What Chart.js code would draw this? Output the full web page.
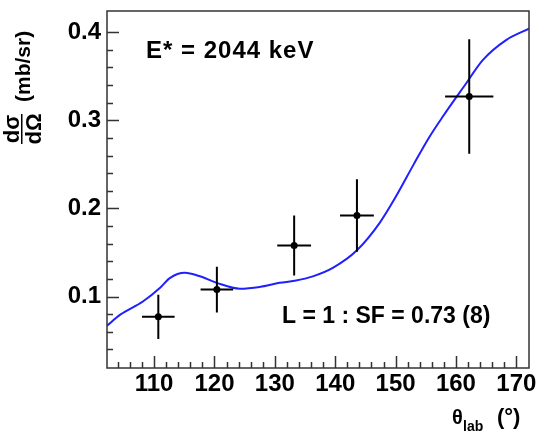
<!DOCTYPE html>
<html lang="en">
<head>
  <meta charset="UTF-8">
  <title>dσ/dΩ vs θlab</title>
  <script src="https://cdn.jsdelivr.net/npm/chart.js"></script>
  <style>
    body { margin: 0; background: #fff; }
    #wrap { width: 539px; height: 432px; }
  </style>
</head>
<body>
  <div id="wrap"><canvas id="xsChart" width="539" height="432"></canvas></div>

  <script>
    // measured points (lab angle in degrees, cross section in mb/sr)
    const expAngle = [110.7, 120.4, 133.2, 143.6, 162.2];
    const expXS    = [0.077, 0.108, 0.158, 0.192, 0.327];
    const angleErr = [2.7, 2.7, 2.8, 2.8, 4.0];
    const xsErr    = [0.025, 0.026, 0.034, 0.041, 0.065];

    // L = 1 calculation, scaled by SF
    const calcAngle = [102.2, 104.4, 108.2, 111.0, 112.6, 115.1, 117.6, 120.4, 124.2, 127.5, 130.8,
                       133.3, 136.3, 139.6, 143.6, 147.4, 150.1, 153.0, 155.5, 157.8, 161.7, 164.4, 168.3, 172.1];
    const calcXS    = [0.067, 0.0795, 0.0947, 0.110, 0.121, 0.127, 0.123, 0.1156, 0.109, 0.111, 0.1156,
                       0.118, 0.123, 0.1326, 0.1526, 0.184, 0.214, 0.250, 0.280, 0.304, 0.342, 0.368, 0.391, 0.404];

    const xTicks = [110, 120, 130, 140, 150, 160, 170];
    const yTicks = [0.1, 0.2, 0.3, 0.4];

    const FONT = "'Liberation Sans', Arial, sans-serif";

    const rootStyle = {
      id: "rootStyle",
      afterDatasetsDraw(chart) {
        const ctx = chart.ctx;
        const xs = chart.scales.x, ys = chart.scales.y;

        // error bars + markers
        ctx.save();
        ctx.strokeStyle = "#000";
        ctx.fillStyle = "#000";
        ctx.lineWidth = 2;
        expAngle.forEach((ang, i) => {
          const px = xs.getPixelForValue(ang);
          const py = ys.getPixelForValue(expXS[i]);
          ctx.beginPath();
          ctx.moveTo(xs.getPixelForValue(ang - angleErr[i]), py);
          ctx.lineTo(xs.getPixelForValue(ang + angleErr[i]), py);
          ctx.moveTo(px, ys.getPixelForValue(expXS[i] - xsErr[i]));
          ctx.lineTo(px, ys.getPixelForValue(expXS[i] + xsErr[i]));
          ctx.stroke();
          ctx.beginPath();
          ctx.arc(px, py, 3.5, 0, Math.PI * 2);
          ctx.fill();
        });
        ctx.restore();
      },
      afterDraw(chart) {
        const ctx = chart.ctx;
        const xs = chart.scales.x, ys = chart.scales.y;
        const a = chart.chartArea;
        ctx.save();
        // frame
        ctx.strokeStyle = "#333";
        ctx.lineWidth = 1.5;
        ctx.strokeRect(a.left, a.top, a.right - a.left, a.bottom - a.top);

        // ticks pointing inward
        ctx.beginPath();
        for (let v = 102; v <= 172.01; v += 2) {
          const px = Math.round(xs.getPixelForValue(v)) + 0.5;
          if (px <= a.left + 1 || px >= a.right - 1) continue;
          const len = (Math.round(v) % 10 === 0) ? 12 : 6;
          ctx.moveTo(px, a.bottom);
          ctx.lineTo(px, a.bottom - len);
        }
        for (let v = 0.02; v <= 0.42; v += 0.02) {
          const py = Math.round(ys.getPixelForValue(v)) + 0.5;
          if (py >= a.bottom - 1 || py <= a.top + 1) continue;
          const major = Math.abs(v * 10 - Math.round(v * 10)) < 1e-6;
          ctx.moveTo(a.left, py);
          ctx.lineTo(a.left + (major ? 12 : 6), py);
        }
        ctx.stroke();

        // annotations
        ctx.fillStyle = "#000";
        ctx.textBaseline = "alphabetic";
        ctx.textAlign = "left";
        ctx.font = "bold 24px " + FONT;
        ctx.letterSpacing = "1px";
        ctx.fillText("E* = 2044 keV", 146, 58);
        ctx.letterSpacing = "0px";
        ctx.font = "bold 23px " + FONT;
        ctx.fillText("L = 1 : SF = 0.73 (8)", 282, 323);

        // x title: θlab (°)
        ctx.font = "bold 20px " + FONT;
        ctx.fillText("θ", 452, 424);
        ctx.font = "bold 14px " + FONT;
        ctx.fillText("lab", 463, 431);
        ctx.font = "bold 22px " + FONT;
        ctx.fillText("(°)", 497, 424);

        // y title, rotated: dσ/dΩ (mb/sr)
        ctx.save();
        ctx.rotate(-Math.PI / 2);
        // rotated frame: x' = -y, y' = x
        ctx.font = "bold 22px " + FONT;
        ctx.textAlign = "center";
        ctx.fillText("dσ", -129, 19);
        ctx.fillText("dΩ", -129, 41);
        ctx.fillRect(-144, 21, 30, 1.5);
        ctx.textAlign = "left";
        ctx.font = "bold 21px " + FONT;
        ctx.fillText("(mb/sr)", -102, 30);
        ctx.restore();
        ctx.restore();
      }
    };

    new Chart(document.getElementById("xsChart"), {
      type: "scatter",
      data: {
        datasets: [{
          label: "L = 1",
          data: calcAngle.map((ang, i) => ({ x: ang, y: calcXS[i] })),
          showLine: true,
          borderColor: "#2020ff",
          borderWidth: 2,
          pointRadius: 0,
          tension: 0.4,
          cubicInterpolationMode: "monotone",
          fill: false
        }]
      },
      options: {
        responsive: false,
        animation: false,
        layout: { autoPadding: false, padding: { left: 0, right: 10, top: 11, bottom: 0 } },
        plugins: { legend: { display: false }, tooltip: { enabled: false } },
        scales: {
          x: {
            type: "linear",
            min: 102.2,
            max: 172.1,
            grid: { display: false, drawTicks: false },
            border: { display: false },
            afterBuildTicks: s => { s.ticks = xTicks.map(v => ({ value: v })); },
            afterFit: s => { s.height = 64; s.paddingLeft = 0; s.paddingRight = 0; },
            ticks: {
              padding: 2,
              color: "#000",
              font: { family: FONT, size: 24, weight: "bold" },
              callback: v => String(v)
            }
          },
          y: {
            type: "linear",
            min: 0.019,
            max: 0.424,
            grid: { display: false, drawTicks: false },
            border: { display: false },
            afterBuildTicks: s => { s.ticks = yTicks.map(v => ({ value: v })); },
            afterFit: s => { s.width = 107; s.paddingTop = 0; s.paddingBottom = 0; },
            ticks: {
              padding: 6,
              color: "#000",
              font: { family: FONT, size: 24, weight: "bold" },
              callback: v => v.toFixed(1)
            }
          }
        }
      },
      plugins: [rootStyle]
    });
  </script>
</body>
</html>
